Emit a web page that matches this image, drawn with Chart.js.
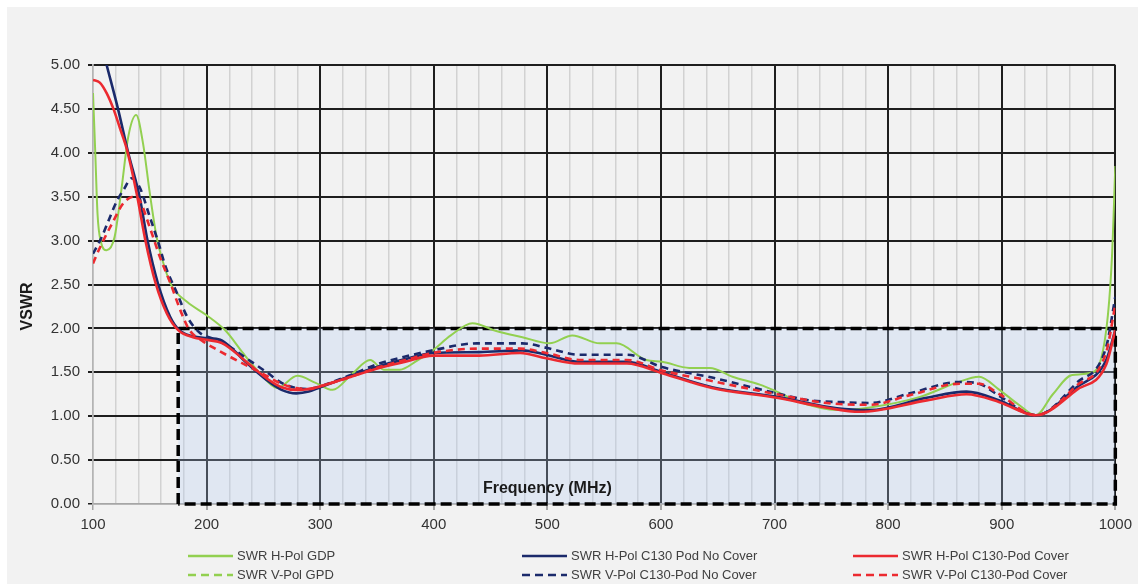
<!DOCTYPE html>
<html>
<head>
<meta charset="utf-8">
<script src="https://cdn.jsdelivr.net/npm/chart.js@4.4.1/dist/chart.umd.min.js"></script>
<style>
  html, body { margin: 0; padding: 0; background: #ffffff; }
  #frame { position: absolute; left: 7px; top: 7px; width: 1131px; height: 577px; background: #f2f2f2; }
  #wrap { position: absolute; left: 0; top: 0; width: 1138px; height: 584px; }
  #legend { position: absolute; left: 0; top: 0; width: 1138px; height: 584px; pointer-events: none;
    font-family: 'Liberation Sans', Arial, sans-serif; font-size: 13px; color: #404040; }
  .item { position: absolute; height: 16px; line-height: 16px; white-space: nowrap; }
  .item svg { position: absolute; left: 0; top: 0; }
  .item span { position: absolute; left: 49px; top: 0; }
</style>
</head>
<body>
<div id="frame"></div>
<div id="wrap"><canvas id="chart"></canvas></div>
<div id="legend"></div>
<script>
// VSWR sweeps, frequency in MHz
const GDP_H_FREQ = [100, 102, 104, 107, 112, 119, 125, 131, 138, 144, 150, 156, 162, 169, 183, 200, 217, 232, 247, 262, 280, 296, 311, 328, 344, 356, 370, 385, 399, 415, 434, 455, 478, 502, 522, 546, 561, 587, 601, 625, 643, 663, 687, 702, 722, 755, 784, 828, 860, 880, 898, 915, 930, 945, 962, 980, 992, 997, 1000];
const GDP_H_VSWR = [4.68, 4.00, 3.30, 2.98, 2.89, 3.04, 3.58, 4.18, 4.43, 4.11, 3.54, 3.04, 2.74, 2.49, 2.30, 2.15, 1.97, 1.72, 1.49, 1.32, 1.46, 1.38, 1.30, 1.48, 1.64, 1.53, 1.53, 1.63, 1.75, 1.92, 2.06, 1.97, 1.90, 1.83, 1.92, 1.83, 1.83, 1.64, 1.62, 1.55, 1.55, 1.45, 1.36, 1.28, 1.16, 1.07, 1.10, 1.22, 1.38, 1.45, 1.30, 1.13, 1.01, 1.25, 1.47, 1.50, 1.98, 2.80, 3.85];

const GDP_V_FREQ = [];
const GDP_V_VSWR = [];

const NOCOV_H_FREQ = [100, 112, 122, 131, 141, 148, 157, 168, 176, 188, 200, 212, 224, 235, 253, 266, 279, 290, 300, 325, 352, 375, 399, 440, 478, 499, 528, 570, 601, 645, 702, 755, 784, 834, 869, 898, 930, 966, 992, 1000];
const NOCOV_H_VSWR = [5.60, 5.00, 4.50, 4.00, 3.50, 3.00, 2.52, 2.13, 1.98, 1.91, 1.89, 1.87, 1.75, 1.61, 1.41, 1.30, 1.26, 1.28, 1.33, 1.45, 1.57, 1.65, 1.72, 1.73, 1.75, 1.70, 1.62, 1.62, 1.50, 1.33, 1.22, 1.09, 1.07, 1.21, 1.28, 1.18, 1.01, 1.33, 1.64, 1.98];

const NOCOV_V_FREQ = [100, 108, 115, 121, 127, 134, 141, 150, 157, 164, 174, 183, 194, 206, 218, 235, 253, 266, 279, 290, 300, 325, 352, 375, 399, 438, 478, 499, 528, 570, 601, 645, 702, 731, 760, 784, 819, 863, 880, 898, 930, 966, 992, 1000];
const NOCOV_V_VSWR = [2.85, 3.05, 3.27, 3.45, 3.58, 3.71, 3.61, 3.27, 3.00, 2.70, 2.40, 2.13, 1.95, 1.88, 1.81, 1.66, 1.50, 1.38, 1.32, 1.31, 1.34, 1.46, 1.60, 1.68, 1.75, 1.83, 1.83, 1.78, 1.70, 1.70, 1.56, 1.44, 1.26, 1.18, 1.16, 1.15, 1.26, 1.39, 1.37, 1.23, 1.01, 1.38, 1.79, 2.36];

const COV_H_FREQ = [100, 106, 112, 118, 124, 130, 139, 146, 155, 165, 175, 188, 200, 214, 235, 253, 266, 279, 290, 300, 325, 352, 375, 399, 440, 476, 499, 528, 570, 601, 645, 702, 745, 775, 834, 869, 898, 930, 966, 992, 1000];
const COV_H_VSWR = [4.83, 4.80, 4.68, 4.50, 4.27, 4.03, 3.50, 3.01, 2.52, 2.17, 1.98, 1.90, 1.87, 1.83, 1.62, 1.43, 1.33, 1.30, 1.31, 1.34, 1.44, 1.55, 1.62, 1.69, 1.69, 1.72, 1.66, 1.60, 1.60, 1.49, 1.32, 1.21, 1.10, 1.05, 1.18, 1.25, 1.16, 1.01, 1.30, 1.59, 1.98];

const COV_V_FREQ = [100, 105, 117, 127, 136, 141, 150, 159, 168, 178, 185, 196, 206, 223, 247, 266, 279, 290, 300, 325, 352, 375, 399, 440, 476, 499, 528, 570, 601, 645, 702, 746, 784, 819, 863, 880, 898, 930, 966, 992, 1000];
const COV_V_VSWR = [2.74, 2.89, 3.20, 3.43, 3.50, 3.46, 3.15, 2.81, 2.52, 2.17, 1.98, 1.86, 1.78, 1.66, 1.50, 1.37, 1.32, 1.31, 1.34, 1.44, 1.56, 1.64, 1.72, 1.77, 1.77, 1.72, 1.64, 1.64, 1.52, 1.40, 1.25, 1.15, 1.13, 1.24, 1.37, 1.37, 1.25, 1.01, 1.35, 1.73, 2.27];

// acceptance box: 175-1000 MHz, VSWR <= 2
const LIMIT_FREQ = [175, 175, 1000, 1000, 175];
const LIMIT_VSWR = [0, 2, 2, 0, 0];
const BAND_FREQ = [175, 1000];
const BAND_VSWR = [2, 2];

const SERIES_LABELS = [
  'SWR H-Pol GDP', 'SWR V-Pol GPD',
  'SWR H-Pol C130 Pod No Cover', 'SWR V-Pol C130-Pod No Cover',
  'SWR H-Pol C130-Pod Cover', 'SWR V-Pol C130-Pod Cover'
];

const FONT = "'Liberation Sans', Arial, sans-serif";
const GREEN = '#92d050';
const NAVY = '#1b2a6b';
const RED = '#ec2a30';
const DASH = [7, 5];

Chart.defaults.font.family = FONT;
Chart.defaults.color = '#333333';

const points = (f, v) => f.map((x, i) => ({ x, y: v[i] }));

const series = [
  { data: points(GDP_H_FREQ, GDP_H_VSWR), color: GREEN, dash: [], width: 2, order: 6 },
  { data: points(GDP_V_FREQ, GDP_V_VSWR), color: GREEN, dash: DASH, width: 2, order: 5 },
  { data: points(NOCOV_H_FREQ, NOCOV_H_VSWR), color: NAVY, dash: [], width: 2.6, order: 4 },
  { data: points(NOCOV_V_FREQ, NOCOV_V_VSWR), color: NAVY, dash: DASH, width: 2.6, order: 3 },
  { data: points(COV_H_FREQ, COV_H_VSWR), color: RED, dash: [], width: 2.6, order: 2 },
  { data: points(COV_V_FREQ, COV_V_VSWR), color: RED, dash: DASH, width: 2.6, order: 1 }
];

const datasets = series.map((s, i) => ({
  label: SERIES_LABELS[i],
  data: s.data,
  borderColor: s.color,
  borderDash: s.dash,
  borderWidth: s.width,
  pointRadius: 0,
  cubicInterpolationMode: 'monotone',
  fill: false,
  order: s.order
}));

// shaded band under the 2:1 limit
datasets.push({
  label: 'band',
  data: points(BAND_FREQ, BAND_VSWR),
  borderColor: 'rgba(0,0,0,0)',
  borderWidth: 0,
  backgroundColor: 'rgba(180, 205, 245, 0.28)',
  fill: 'origin',
  pointRadius: 0,
  tension: 0,
  order: 11
});

// dashed outline of the band
datasets.push({
  label: 'limit',
  data: points(LIMIT_FREQ, LIMIT_VSWR),
  borderColor: '#000000',
  borderWidth: 3.5,
  borderDash: [11, 5],
  fill: false,
  pointRadius: 0,
  tension: 0,
  clip: false,
  order: 10
});

// bold axis titles placed inside/next to the plot
const axisTitles = {
  id: 'axisTitles',
  afterDraw(chart) {
    const { ctx, chartArea, scales } = chart;
    ctx.save();
    ctx.fillStyle = '#1a1a1a';
    ctx.font = 'bold 16px ' + FONT;
    ctx.textAlign = 'center';
    ctx.textBaseline = 'middle';
    ctx.fillText('Frequency (MHz)', scales.x.getPixelForValue(500), chartArea.bottom - 15);
    ctx.translate(28, scales.y.getPixelForValue(2.25));
    ctx.rotate(-Math.PI / 2);
    ctx.fillText('VSWR', 0, 0);
    ctx.restore();
  }
};

const isMajor = v => Math.abs(v % 100) < 1e-6;

new Chart(document.getElementById('chart'), {
  type: 'line',
  data: { datasets },
  options: {
    responsive: true,
    maintainAspectRatio: false,
    animation: false,
    layout: { padding: { left: 0, top: 65, right: 22, bottom: 50 } },
    plugins: { legend: { display: false }, tooltip: { enabled: false } },
    scales: {
      x: {
        type: 'linear',
        min: 100,
        max: 1000,
        afterFit: s => { s.height = 30; },
        border: { color: '#a6a6a6', width: 1.5 },
        grid: {
          color: c => (c.tick.value === 100 ? '#b4b4b4' : isMajor(c.tick.value) ? '#1e1e1e' : '#d2d2d2'),
          lineWidth: c => (isMajor(c.tick.value) && c.tick.value !== 100 ? 2 : 1.5),
          tickColor: c => (isMajor(c.tick.value) ? '#a6a6a6' : 'rgba(0,0,0,0)'),
          tickLength: 6
        },
        ticks: {
          stepSize: 20,
          autoSkip: false,
          maxRotation: 0,
          padding: 6,
          color: '#333333',
          font: { size: 15 },
          callback: v => (isMajor(v) ? String(v) : '')
        }
      },
      y: {
        min: 0,
        max: 5,
        afterFit: s => { s.width = 93; },
        border: { color: '#b4b4b4', width: 1.5 },
        grid: {
          color: c => (c.tick.value === 0 ? '#a6a6a6' : '#1e1e1e'),
          lineWidth: c => (c.tick.value === 0 ? 1.5 : 2),
          tickColor: '#1e1e1e',
          tickLength: 5
        },
        ticks: {
          stepSize: 0.5,
          padding: 8,
          color: '#333333',
          font: { size: 15 },
          callback: v => v.toFixed(2)
        }
      }
    }
  },
  plugins: [axisTitles]
});

// three-column legend below the axis
const legendPos = [[188, 548], [188, 567], [522, 548], [522, 567], [853, 548], [853, 567]];
const legend = document.getElementById('legend');
series.forEach((s, i) => {
  const item = document.createElement('div');
  item.className = 'item';
  item.style.left = legendPos[i][0] + 'px';
  item.style.top = legendPos[i][1] + 'px';
  const dash = s.dash.length ? 'stroke-dasharray="8 5"' : '';
  item.innerHTML = '<svg width="46" height="16"><line x1="0" y1="8" x2="45" y2="8" stroke="' + s.color +
    '" stroke-width="2.6" ' + dash + '/></svg><span>' + SERIES_LABELS[i] + '</span>';
  legend.appendChild(item);
});
</script>
</body>
</html>
